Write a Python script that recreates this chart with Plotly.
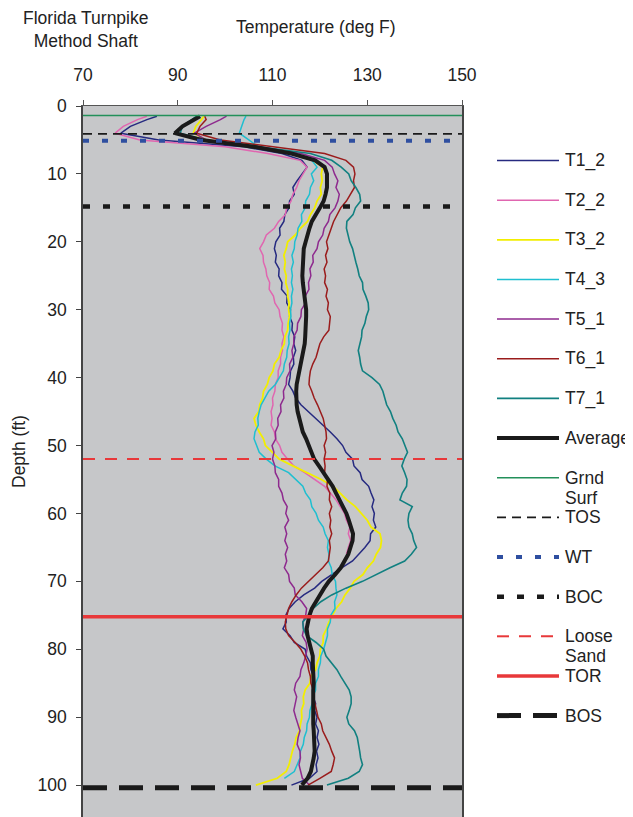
import plotly.graph_objects as go

# ---------------- data ----------------
depth_ft = [1.5, 2, 3, 4, 5,
            6, 7, 8, 9, 10, 11, 12, 13, 14, 15,
            16, 17, 18, 19, 20, 21, 22, 23, 24, 25,
            26, 27, 28, 29, 30, 31, 32, 33, 34, 35,
            36, 37, 38, 39, 40, 41, 42, 43, 44, 45,
            46, 47, 48, 49, 50, 51, 52, 53, 54, 55,
            56, 57, 58, 59, 60, 61, 62, 63, 64, 65,
            66, 67, 68, 69, 70, 71, 72, 73, 74, 75,
            76, 77, 78, 79, 80, 81, 82, 83, 84, 85,
            86, 87, 88, 89, 90, 91, 92, 93, 94, 95,
            96, 97, 98, 99, 100]

t1_2 = [85.6, 83.5, 80.0, 78.0, 86.0,
        104.0, 112.0, 116.2, 117.3, 116.2, 115.2, 114.3, 114.6, 113.6, 113.5,
        112.6, 112.4, 111.5, 111.6, 110.7, 110.4, 110.8, 110.6, 111.4, 111.3,
        112.0, 111.9, 113.1, 113.0, 113.8, 113.6, 114.2, 114.1, 114.7, 114.5,
        114.9, 114.4, 114.5, 113.8, 113.7, 113.4, 114.3, 114.9, 116.0, 117.6,
        119.0, 120.6, 122.2, 123.6, 124.8, 125.5, 126.9, 127.2, 128.5, 128.9,
        130.3, 130.8, 131.4, 131.0, 131.5, 131.3, 131.8, 130.7, 130.6, 129.5,
        128.3, 126.9, 124.6, 122.6, 120.4, 118.9, 116.6, 114.8, 113.5, 112.8,
        112.9, 112.2, 113.7, 114.6, 116.9, 117.2, 118.0, 118.1, 118.7, 118.4,
        118.9, 118.6, 119.1, 118.9, 119.4, 119.1, 119.7, 119.4, 119.8, 119.3,
        119.6, 119.2, 119.4, 117.8, 114.0]

t2_2 = [83.5, 81.5, 78.5, 76.8, 82.0,
        100.0, 109.0, 115.8, 117.3, 116.4, 115.6, 115.1, 114.3, 113.9, 113.0,
        112.7, 111.3, 110.4, 108.7, 108.1, 107.3, 108.0, 108.1, 108.6, 108.8,
        109.4, 109.3, 110.2, 110.5, 111.4, 111.6, 112.1, 112.0, 112.4, 112.0,
        112.1, 111.7, 111.7, 111.2, 111.2, 110.6, 110.5, 110.0, 110.1, 109.7,
        109.9, 109.7, 110.4, 110.6, 111.5, 112.0, 113.2, 114.5, 116.8, 119.0,
        121.0, 122.2, 123.4, 124.3, 125.2, 125.6, 126.3, 126.0, 126.5, 126.0,
        125.6, None, None, None, None, None, None, None, None, None,
        None, None, None, None, None, None, None, None, None, None,
        None, None, None, None, None, None, None, None, None, None,
        None, None, None, None, None]

t3_2 = [95.5, 95.0, 93.8, 93.3, 96.0,
        106.0, 114.0, 118.5, 120.6, 120.3, 120.5, 120.1, 120.3, 119.4, 118.9,
        118.0, 117.4, 115.9, 114.8, 113.2, 112.9, 112.4, 112.7, 112.5, 112.9,
        112.8, 113.2, 113.2, 113.5, 113.4, 113.6, 113.3, 113.2, 112.6, 112.5,
        111.8, 111.4, 110.4, 110.1, 109.3, 108.9, 108.1, 107.9, 107.3, 107.1,
        106.1, 106.5, 107.2, 108.1, 108.5, 110.0, 111.4, 114.3, 117.3, 120.3,
        122.8, 124.3, 125.7, 127.5, 128.7, 130.0, 130.8, 132.7, 133.0, 132.8,
        131.9, 131.3, 130.0, 129.1, 127.2, 126.4, 125.3, 124.6, 123.4, 122.7,
        121.9, 121.4, 120.7, 120.7, 120.1, 120.0, 119.4, 119.1, 118.1, 117.9,
        116.9, 116.5, 116.6, 116.1, 116.2, 115.9, 115.7, 115.0, 114.7, 114.2,
        113.9, 113.5, 112.9, 111.0, 106.5]

t4_3 = [104.4, 104.0, 103.5, 103.0, 105.0,
        107.0, 114.0, 118.3, 119.4, 118.2, 118.7, 118.0, 117.8, 117.0, 116.9,
        116.1, 116.2, 115.4, 115.2, 114.7, 114.6, 114.1, 114.4, 114.0, 114.2,
        114.0, 114.3, 114.0, 114.1, 113.8, 113.9, 113.6, 113.7, 113.4, 113.5,
        113.1, 113.0, 112.5, 112.3, 111.4, 110.6, 109.2, 108.4, 107.6, 107.2,
        106.9, 107.0, 106.3, 106.1, 106.6, 107.2, 108.7, 110.5, 113.4, 114.8,
        116.4, 117.0, 118.0, 118.3, 119.2, 119.7, 120.7, 121.1, 121.8, 121.6,
        121.9, 121.8, 122.4, 122.6, 123.3, 123.4, 123.6, 123.1, 123.2, 122.3,
        122.2, 121.6, 121.6, 121.2, 120.8, 120.2, 120.1, 119.7, 119.7, 119.1,
        119.1, 118.5, 118.4, 117.9, 117.8, 117.3, 117.2, 116.7, 116.5, 115.9,
        115.8, 115.2, 114.6, 112.5, None]

t5_1 = [100.3, 99.0, 96.0, 93.5, 96.0,
        107.0, 116.0, 121.0, 122.6, 123.1, 123.8, 123.4, 124.1, 123.8, 123.2,
        122.1, 121.8, 120.9, 120.6, 119.7, 119.4, 118.5, 118.6, 117.9, 118.1,
        117.6, 117.7, 116.9, 117.0, 116.1, 116.0, 115.3, 115.2, 114.5, 114.5,
        114.1, 114.3, 113.6, 113.7, 113.0, 112.9, 112.3, 112.4, 111.7, 111.8,
        111.1, 111.2, 110.6, 110.7, 109.9, 110.3, 110.0, 110.5, 110.6, 111.3,
        111.3, 112.0, 112.3, 113.1, 112.8, 113.4, 112.6, 113.0, 112.6, 113.2,
        112.7, 113.0, 112.5, 113.4, 113.6, 114.6, 114.8, 116.2, 117.2, 117.0,
        116.4, 116.6, 116.3, 117.1, 117.3, 117.0, 116.6, 116.0, 115.8, 114.9,
        114.6, 115.1, 114.8, 114.5, 114.9, 115.3, 115.8, 115.4, 115.2, 115.8,
        115.9, 115.6, 116.0, 116.3, 117.8]

t6_1 = [95.7, 96.0, 94.7, 94.0, 99.0,
        110.0, 121.0, 125.5, 127.1, 127.4, 127.1, 127.3, 126.4, 125.6, 124.4,
        123.7, 122.9, 122.4, 121.9, 121.4, 121.7, 121.2, 121.5, 120.9, 121.2,
        121.0, 121.6, 121.3, 121.8, 121.6, 122.2, 122.1, 121.9, 120.8, 120.0,
        119.6, 119.2, 118.5, 118.0, 117.8, 117.7, 118.3, 118.8, 119.5, 120.1,
        120.7, 121.0, 121.3, 121.4, 120.9, 121.2, 120.9, 121.1, 121.0, 121.6,
        121.5, 122.1, 122.0, 122.5, 122.0, 122.3, 122.1, 122.5, 122.0, 122.2,
        122.0, 121.8, 120.6, 119.1, 117.6, 116.1, 115.0, 114.1, 113.4, 113.0,
        112.7, 112.8, 113.4, 114.8, 116.0, 116.8, 117.4, 117.6, 118.0, 118.1,
        118.6, 118.6, 119.0, 119.3, 119.6, 120.3, 120.6, 121.3, 122.0, 122.5,
        123.1, 122.8, 122.4, 120.0, 117.5]

t7_1 = [94.0, 93.0, 91.0, 90.5, 96.0,
        107.0, 118.0, 122.5, 124.5, 126.1, 126.6, 127.6, 128.4, 128.6, 127.5,
        127.0, 125.7, 125.6, 125.9, 126.3, 126.9, 127.2, 127.6, 128.0, 128.3,
        129.0, 129.1, 129.7, 130.2, 130.3, 129.8, 129.5, 128.9, 128.8, 128.4,
        128.1, 128.4, 128.6, 129.0, 131.0, 132.6, 133.3, 133.7, 134.1, 134.9,
        135.4, 136.1, 136.5, 137.4, 138.0, 138.5, 137.8, 137.3, 137.9, 138.4,
        138.3, 137.4, 136.9, 139.5, 138.8, 138.6, 138.8, 139.5, 139.8, 140.4,
        139.3, 137.9, 134.8, 131.8, 129.0, 125.5, 122.5, 120.2, 118.6, 117.6,
        116.4, 116.5, 117.2, 119.2, 120.8, 121.3, 122.4, 123.6, 124.4, 125.3,
        126.2, 126.6, 126.6, 126.2, 125.7, 126.1, 127.3, 127.9, 128.2, 128.4,
        128.6, 129.0, 128.3, 126.0, 121.5]

average = [94.7, 93.5, 91.0, 89.4, 95.0,
           106.0, 114.0, 119.0, 121.0, 121.5, 121.5, 121.5, 121.2, 120.8, 120.0,
           119.2, 118.3, 117.8, 117.5, 117.0, 116.6, 116.5, 116.4, 116.3, 116.3,
           116.4, 116.6, 116.9, 117.1, 117.1, 117.1, 117.1, 117.0, 116.9, 116.8,
           116.5, 116.2, 115.9, 115.6, 115.3, 115.1, 115.0, 115.0, 115.1, 115.3,
           115.6, 116.1, 116.4, 117.1, 117.7, 118.3, 118.8, 119.8, 120.8, 121.8,
           122.7, 123.4, 124.2, 125.0, 125.6, 126.1, 126.6, 127.0, 126.9, 126.5,
           126.0, 125.2, 124.4, 123.2, 121.9, 120.9, 120.0, 119.0, 118.3, 117.8,
           117.4, 117.2, 117.4, 117.8, 118.2, 118.5, 118.5, 118.6, 118.7, 118.7,
           118.6, 118.7, 118.6, 118.6, 118.5, 118.6, 118.7, 118.8, 118.9, 118.9,
           118.7, 118.5, 118.1, 117.4, 116.2]

series_names = ["T1_2", "T2_2", "T3_2", "T4_3", "T5_1", "T6_1", "T7_1", "Average"]
series_values = [t1_2, t2_2, t3_2, t4_3, t5_1, t6_1, t7_1, average]

level_names = ["Grnd Surf", "TOS", "WT", "BOC", "Loose Sand", "TOR", "BOS"]
level_depths = [1.4, 4.1, 5.1, 14.8, 52.0, 75.2, 100.4]

x_ticks = [70, 90, 110, 130, 150]
y_ticks = [0, 10, 20, 30, 40, 50, 60, 70, 80, 90, 100]

# ---------------- styles ----------------
series_styles = {
    "T1_2": dict(color="#262a80", width=1.5, dash="solid"),
    "T2_2": dict(color="#e066b0", width=1.5, dash="solid"),
    "T3_2": dict(color="#f2ee00", width=1.8, dash="solid"),
    "T4_3": dict(color="#1fbfd0", width=1.5, dash="solid"),
    "T5_1": dict(color="#8e2a8e", width=1.5, dash="solid"),
    "T6_1": dict(color="#9a1c1c", width=1.5, dash="solid"),
    "T7_1": dict(color="#118080", width=1.6, dash="solid"),
    "Average": dict(color="#1a1a1a", width=4, dash="solid"),
}
level_styles = {
    "Grnd Surf": dict(color="#23905a", width=1.5, dash="solid"),
    "TOS": dict(color="#1a1a1a", width=1.6, dash="9px,6px"),
    "WT": dict(color="#2f4fa0", width=4, dash="6px,13px"),
    "BOC": dict(color="#1a1a1a", width=4.5, dash="7px,13px"),
    "Loose Sand": dict(color="#e8383a", width=2, dash="12px,10px"),
    "TOR": dict(color="#e8383a", width=3.5, dash="solid"),
    "BOS": dict(color="#1a1a1a", width=5, dash="24px,12px"),
}

FONT = "Liberation Sans, Arial, sans-serif"
FS = 17.5
# the page body has an 8px margin, so the figure is offset by 8px in the window
OFF = 8
WIN_W, WIN_H = 633, 817
W, H = WIN_W - OFF, WIN_H - OFF
PLOT_L, PLOT_R, PLOT_T, PLOT_B = 83, 462, 106, 817     # in window pixels
ML, MT = PLOT_L - OFF, PLOT_T - OFF
MR, MB = W - (PLOT_R - OFF), H - (PLOT_B - OFF)
PW, PH = PLOT_R - PLOT_L, PLOT_B - PLOT_T

fig = go.Figure()

for name, vals in zip(series_names, series_values):
    st = series_styles[name]
    fig.add_trace(go.Scatter(x=vals, y=depth_ft, mode="lines", name=name,
                             line=dict(color=st["color"], width=st["width"]),
                             connectgaps=False, showlegend=False))

for name, d in zip(level_names, level_depths):
    st = level_styles[name]
    fig.add_trace(go.Scatter(x=[x_ticks[0], x_ticks[-1]], y=[d, d], mode="lines", name=name,
                             line=dict(color=st["color"], width=st["width"], dash=st["dash"]),
                             showlegend=False))

# ---------------- manual legend (Excel-like, on the right) ----------------
def px_x(px):
    return (px - PLOT_L) / PW

def px_y(py):
    return (PLOT_B - py) / PH

legend_items = series_names + level_names
all_styles = {**series_styles, **level_styles}
y0, step = 160.5, 39.65
for i, name in enumerate(legend_items):
    st = all_styles[name]
    py = y0 + i * step
    fig.add_shape(type="line", xref="paper", yref="paper",
                  x0=px_x(497), x1=px_x(559), y0=px_y(py), y1=px_y(py),
                  line=dict(color=st["color"], width=st["width"], dash=st["dash"]))
    words = name.split(" ")
    for k, w in enumerate(words):
        fig.add_annotation(xref="paper", yref="paper", x=px_x(563), y=px_y(py + 20 * k),
                           text=w, showarrow=False, xanchor="left", yanchor="middle",
                           font=dict(family=FONT, size=FS, color="#222"))

# ---------------- titles ----------------
fig.add_annotation(xref="paper", yref="paper", x=px_x(85), y=px_y(30),
                   text="Florida Turnpike<br>Method Shaft", showarrow=False,
                   xanchor="center", yanchor="middle", align="center",
                   font=dict(family=FONT, size=FS, color="#222"))
fig.add_annotation(xref="paper", yref="paper", x=px_x(316), y=px_y(27),
                   text="Temperature (deg F)", showarrow=False,
                   xanchor="center", yanchor="middle",
                   font=dict(family=FONT, size=FS, color="#222"))
fig.add_annotation(xref="paper", yref="paper", x=px_x(19), y=px_y(452),
                   text="Depth (ft)", showarrow=False, textangle=-90,
                   xanchor="center", yanchor="middle",
                   font=dict(family=FONT, size=FS, color="#222"))

fig.update_layout(
    width=W, height=H,
    margin=dict(l=ML, r=MR, t=MT, b=MB, pad=0, autoexpand=False),
    plot_bgcolor="#c6c7c9", paper_bgcolor="white",
    showlegend=False,
    font=dict(family=FONT, size=FS, color="#222"),
    xaxis=dict(range=[70, 150], side="top", tickvals=x_ticks, ticks="outside",
               ticklen=5, tickwidth=1, tickcolor="#555", showline=True,
               linecolor="#555", linewidth=1, showgrid=False, zeroline=False,
               ticklabelstandoff=12, automargin=False,
               tickfont=dict(family=FONT, size=FS, color="#222")),
    yaxis=dict(range=[104.7, 0], tickvals=y_ticks, ticks="outside",
               ticklen=5, tickwidth=1, tickcolor="#444", showline=True,
               linecolor="#444", linewidth=1.5, mirror=True, showgrid=False,
               zeroline=False, ticklabelstandoff=6, automargin=False,
               tickfont=dict(family=FONT, size=FS, color="#222")),
)

fig.write_html("out.html")
